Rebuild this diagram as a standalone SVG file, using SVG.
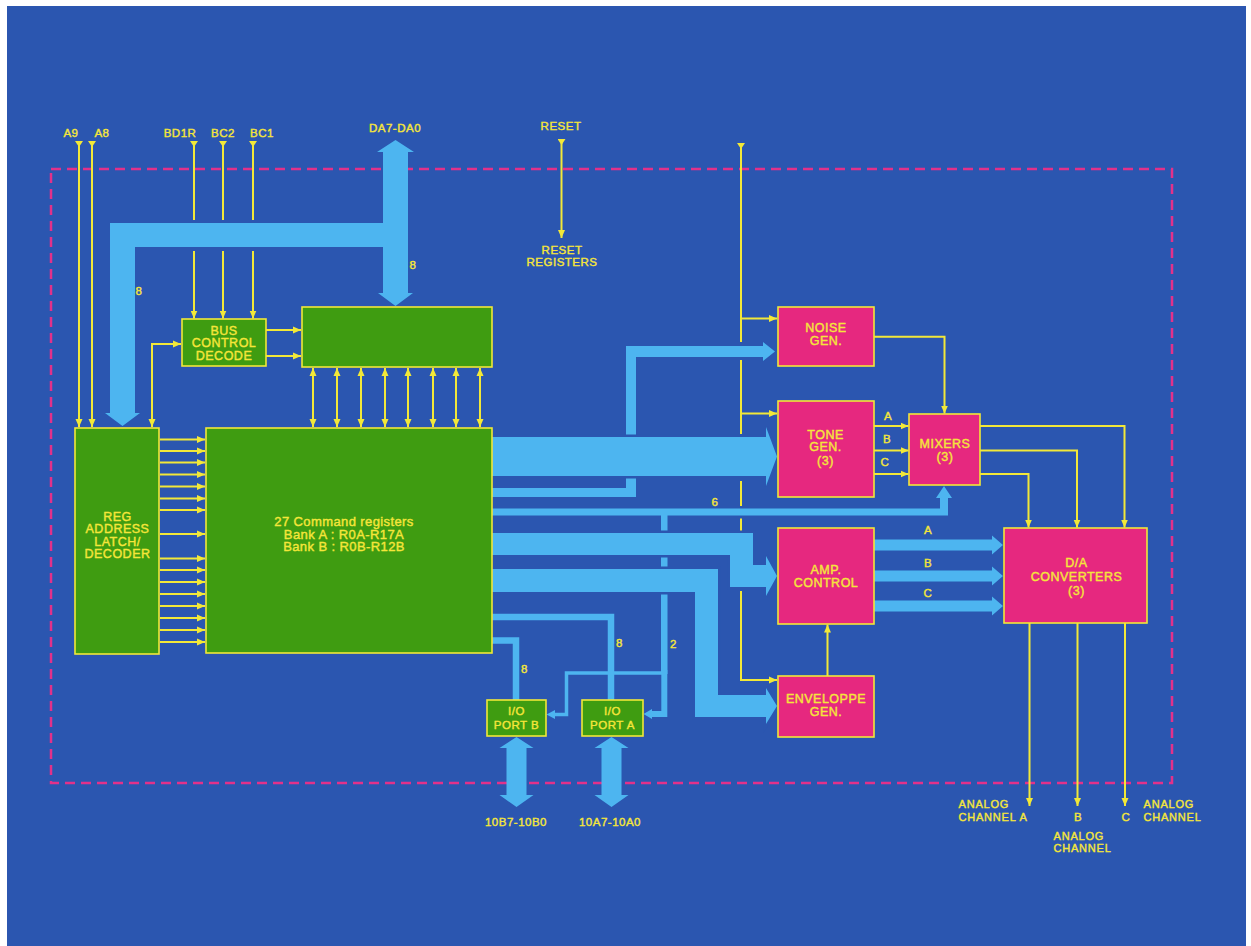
<svg xmlns="http://www.w3.org/2000/svg" width="1251" height="946" viewBox="0 0 1251 946">
<defs>
<style>
.y{stroke:#F2E838;stroke-width:2;fill:none}
.bus{fill:#4DB5F0}
.o{stroke:#2B56B0;stroke-width:5;paint-order:stroke;stroke-linejoin:miter}
.bl{stroke:#4DB5F0;fill:none}
.g{fill:#3F9C11;stroke:#F2E838;stroke-width:1.6}
.m{fill:#E6287F;stroke:#F2E838;stroke-width:1.6}
text{font-family:"Liberation Sans",Arial,sans-serif;fill:#F5E63A;stroke:#F5E63A;stroke-width:0.4px;font-size:12.5px;text-anchor:middle;letter-spacing:0.5px}
.s{font-size:11.5px}
.l{text-anchor:start;font-size:11px;letter-spacing:0.8px}
.c{font-size:13px;letter-spacing:0.4px}
</style>
<marker id="arr" viewBox="0 0 8 8" refX="8" refY="4" markerWidth="8" markerHeight="8" markerUnits="userSpaceOnUse" orient="auto-start-reverse"><path d="M0,0.5 L8,4 L0,7.5 Z" fill="#F2E838"/></marker>
<marker id="src" viewBox="0 0 6 8" refX="0" refY="4" markerWidth="6" markerHeight="8" markerUnits="userSpaceOnUse" orient="auto"><path d="M0,0 L6,4 L0,8 Z" fill="#F2E838"/></marker>
</defs>
<rect width="1251" height="946" fill="#ffffff"/>
<rect x="7" y="6" width="1239" height="940" fill="#2B56B0"/>
<rect x="51" y="169" width="1121" height="614" fill="none" stroke="#E2318A" stroke-width="2.5" stroke-dasharray="10 6"/>

<g id="connectors">
<polygon class="bus" points="395.5,140 414,152 408,152 408,293 413,293 395.5,306 378,293 383,293 383,247 135,247 135,413 140,413 122.5,426 105,413 110,413 110,223 383,223 383,152 377,152"/>
<polygon class="bus" points="492,488 626,488 626,346 763,346 763,342 775,351.5 763,361 763,357 636,357 636,497 492,497"/>
<polygon class="bus o" points="492,437 766,437 766,427 777,456.5 766,486 766,476 492,476"/>
<polygon class="bus" points="492,508.5 940,508.5 940,498 936,498 944,486 952,498 948,498 948,515.5 492,515.5"/>
<rect class="bus" x="661" y="512" width="6.5" height="162"/>
<path class="bl" stroke-width="6" d="M664.3,670 V714 H652"/>
<path class="bl" stroke-width="3.5" d="M664.3,673 H566.5 V714.5 H555"/>
<polygon fill="#4DB5F0" points="652,709 643.5,714 652,719"/>
<polygon fill="#4DB5F0" points="555,710 546.5,714.5 555,719"/>
<path class="bl" stroke-width="6.5" d="M492,617 H611 V700"/>
<path class="bl" stroke-width="6.5" d="M492,640.5 H516 V700"/>
<polygon class="bus o" points="492,533 753,533 753,565 766,565 766,556 777,576 766,596 766,587 730,587 730,555 492,555"/>
<polygon class="bus o" points="492,569 718,569 718,695 766,695 766,688 777,706 766,724 766,717 695,717 695,592 492,592"/>
<polygon class="bus" points="874,539.5 992,539.5 992,535.5 1003,545 992,554.5 992,550.5 874,550.5"/>
<polygon class="bus" points="874,570.5 992,570.5 992,566.5 1003,576 992,585.5 992,581.5 874,581.5"/>
<polygon class="bus" points="874,600.5 992,600.5 992,596.5 1003,606 992,615.5 992,611.5 874,611.5"/>
<polygon class="bus" points="516.5,737 533.5,748 526.5,748 526.5,795 533.5,795 516.5,807 499.5,795 506.5,795 506.5,748 499.5,748"/>
<polygon class="bus" points="611.5,737 628.5,748 621.5,748 621.5,795 628.5,795 611.5,807 594.5,795 601.5,795 601.5,748 594.5,748"/>

<line class="y" x1="79" y1="141" x2="79" y2="427" marker-start="url(#src)" marker-end="url(#arr)"/>
<line class="y" x1="92" y1="141" x2="92" y2="427" marker-start="url(#src)" marker-end="url(#arr)"/>
<line class="y" x1="194" y1="141" x2="194" y2="220" marker-start="url(#src)"/>
<line class="y" x1="194" y1="251" x2="194" y2="318.5" marker-end="url(#arr)"/>
<line class="y" x1="223" y1="141" x2="223" y2="220" marker-start="url(#src)"/>
<line class="y" x1="223" y1="251" x2="223" y2="318.5" marker-end="url(#arr)"/>
<line class="y" x1="253" y1="141" x2="253" y2="220" marker-start="url(#src)"/>
<line class="y" x1="253" y1="251" x2="253" y2="318.5" marker-end="url(#arr)"/>
<line class="y" x1="561.5" y1="139" x2="561.5" y2="238" marker-start="url(#src)" marker-end="url(#arr)"/>
<line class="y" x1="266" y1="330" x2="301" y2="330" marker-end="url(#arr)"/>
<line class="y" x1="266" y1="356" x2="301" y2="356" marker-end="url(#arr)"/>
<path class="y" d="M152,427 V344 H181" marker-start="url(#arr)" marker-end="url(#arr)"/>
<g marker-start="url(#arr)" marker-end="url(#arr)">
<line class="y" x1="313" y1="368" x2="313" y2="427"/>
<line class="y" x1="337" y1="368" x2="337" y2="427"/>
<line class="y" x1="361" y1="368" x2="361" y2="427"/>
<line class="y" x1="385" y1="368" x2="385" y2="427"/>
<line class="y" x1="408" y1="368" x2="408" y2="427"/>
<line class="y" x1="433" y1="368" x2="433" y2="427"/>
<line class="y" x1="456" y1="368" x2="456" y2="427"/>
<line class="y" x1="480" y1="368" x2="480" y2="427"/>
</g>
<g marker-end="url(#arr)">
<line class="y" x1="160" y1="439.5" x2="205" y2="439.5"/>
<line class="y" x1="160" y1="451" x2="205" y2="451"/>
<line class="y" x1="160" y1="462.5" x2="205" y2="462.5"/>
<line class="y" x1="160" y1="474.5" x2="205" y2="474.5"/>
<line class="y" x1="160" y1="486.5" x2="205" y2="486.5"/>
<line class="y" x1="160" y1="498.5" x2="205" y2="498.5"/>
<line class="y" x1="160" y1="510" x2="205" y2="510"/>
<line class="y" x1="160" y1="534" x2="205" y2="534"/>
<line class="y" x1="160" y1="558.5" x2="205" y2="558.5"/>
<line class="y" x1="160" y1="570" x2="205" y2="570"/>
<line class="y" x1="160" y1="582" x2="205" y2="582"/>
<line class="y" x1="160" y1="594" x2="205" y2="594"/>
<line class="y" x1="160" y1="606" x2="205" y2="606"/>
<line class="y" x1="160" y1="618" x2="205" y2="618"/>
<line class="y" x1="160" y1="630" x2="205" y2="630"/>
<line class="y" x1="160" y1="642" x2="205" y2="642"/>
</g>
<line class="y" x1="741" y1="143" x2="741" y2="342" marker-start="url(#src)"/>
<line class="y" x1="741" y1="360" x2="741" y2="434"/>
<line class="y" x1="741" y1="481" x2="741" y2="506"/>
<line class="y" x1="741" y1="518.5" x2="741" y2="530.5"/>
<path class="y" d="M741,591 V680 H777" marker-end="url(#arr)"/>
<line class="y" x1="741" y1="318.5" x2="777" y2="318.5" marker-end="url(#arr)"/>
<line class="y" x1="741" y1="413.5" x2="777" y2="413.5" marker-end="url(#arr)"/>
<path class="y" d="M874,336.7 H944.5 V413.5" marker-end="url(#arr)"/>
<line class="y" x1="874" y1="426" x2="908.5" y2="426" marker-end="url(#arr)"/>
<line class="y" x1="874" y1="450.5" x2="908.5" y2="450.5" marker-end="url(#arr)"/>
<line class="y" x1="874" y1="474" x2="908.5" y2="474" marker-end="url(#arr)"/>
<path class="y" d="M980,426 H1124.5 V527.5" marker-end="url(#arr)"/>
<path class="y" d="M980,450.5 H1077 V527.5" marker-end="url(#arr)"/>
<path class="y" d="M980,474 H1028.5 V527.5" marker-end="url(#arr)"/>
<line class="y" x1="827.5" y1="676" x2="827.5" y2="624.5" marker-end="url(#arr)"/>
<line class="y" x1="1029.5" y1="623" x2="1029.5" y2="806" marker-end="url(#arr)"/>
<line class="y" x1="1077.5" y1="623" x2="1077.5" y2="806" marker-end="url(#arr)"/>
<line class="y" x1="1125" y1="623" x2="1125" y2="806" marker-end="url(#arr)"/>
</g>

<g id="bus-control-decode"><rect class="g" x="182" y="319" width="84" height="47"/><text x="224" y="334.5">BUS</text><text x="224" y="347">CONTROL</text><text x="224" y="359.5">DECODE</text></g>
<g id="data-buffer"><rect class="g" x="302" y="307" width="190" height="60"/></g>
<g id="reg-address"><rect class="g" x="75" y="428" width="84" height="226"/><text x="117.5" y="521">REG</text><text x="117.5" y="533">ADDRESS</text><text x="117.5" y="545.5">LATCH/</text><text x="117.5" y="558">DECODER</text></g>
<g id="command-registers"><rect class="g" x="206" y="428" width="286" height="225"/><text x="344" y="526" class="c">27 Command registers</text><text x="344" y="538.5" class="c">Bank A : R0A-R17A</text><text x="344" y="551" class="c">Bank B : R0B-R12B</text></g>
<g id="noise-gen"><rect class="m" x="778" y="307" width="96" height="59"/><text x="826" y="332">NOISE</text><text x="826" y="344.5">GEN.</text></g>
<g id="tone-gen"><rect class="m" x="778" y="401" width="96" height="96"/><text x="825.5" y="438.5">TONE</text><text x="825.5" y="451">GEN.</text><text x="825.5" y="464.5">(3)</text></g>
<g id="mixers"><rect class="m" x="909" y="414" width="71" height="71"/><text x="945" y="447.5">MIXERS</text><text x="945" y="460.5">(3)</text></g>
<g id="amp-control"><rect class="m" x="778" y="528" width="96" height="96"/><text x="826" y="573.5">AMP.</text><text x="826" y="586.5">CONTROL</text></g>
<g id="envelope-gen"><rect class="m" x="778" y="676" width="96" height="61"/><text x="826" y="702.5">ENVELOPPE</text><text x="826" y="715.5">GEN.</text></g>
<g id="da-converters"><rect class="m" x="1004" y="528" width="143" height="95"/><text x="1076.5" y="567">D/A</text><text x="1076.5" y="581">CONVERTERS</text><text x="1076.5" y="595">(3)</text></g>
<g id="port-b"><rect class="g" x="487" y="700" width="59" height="36"/><text x="516.5" y="715" class="s">I/O</text><text x="516.5" y="728.5" class="s">PORT B</text></g>
<g id="port-a"><rect class="g" x="582" y="700" width="61" height="36"/><text x="612.5" y="715" class="s">I/O</text><text x="612.5" y="728.5" class="s">PORT A</text></g>

<g id="labels">
<text x="71" y="137" class="s">A9</text>
<text x="102" y="137" class="s">A8</text>
<text x="180" y="137" class="s">BD1R</text>
<text x="223" y="137" class="s">BC2</text>
<text x="262" y="137" class="s">BC1</text>
<text x="395" y="132" class="s">DA7-DA0</text>
<text x="561" y="130" class="s">RESET</text>
<text x="562" y="253.5" class="s">RESET</text>
<text x="562" y="266" class="s">REGISTERS</text>
<text x="139" y="295" class="s">8</text>
<text x="413" y="269" class="s">8</text>
<text x="715" y="506" class="s">6</text>
<text x="619.5" y="647" class="s">8</text>
<text x="673.5" y="647.5" class="s">2</text>
<text x="524.5" y="673" class="s">8</text>
<text x="888" y="419.5" class="s">A</text>
<text x="887" y="442.5" class="s">B</text>
<text x="885" y="466" class="s">C</text>
<text x="928" y="533.5" class="s">A</text>
<text x="928" y="567" class="s">B</text>
<text x="928" y="597" class="s">C</text>
<text x="516" y="826" class="s">10B7-10B0</text>
<text x="610" y="826" class="s">10A7-10A0</text>
<text x="958.5" y="807.5" class="l">ANALOG</text>
<text x="958.5" y="821" class="l">CHANNEL A</text>
<text x="1078" y="821" class="s">B</text>
<text x="1053.5" y="839.5" class="l">ANALOG</text>
<text x="1053.5" y="852" class="l">CHANNEL</text>
<text x="1126" y="821" class="s">C</text>
<text x="1143.5" y="807.5" class="l">ANALOG</text>
<text x="1143.5" y="821" class="l">CHANNEL</text>
</g>
</svg>
